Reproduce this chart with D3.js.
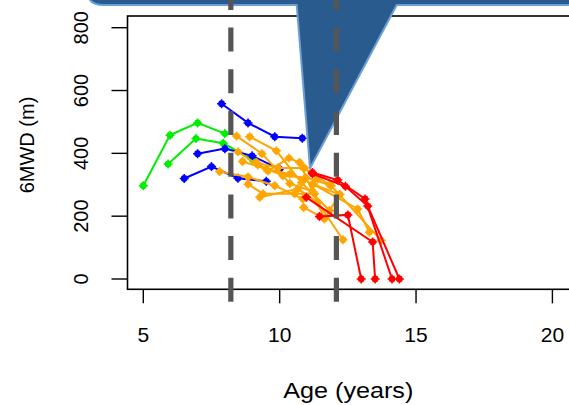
<!DOCTYPE html>
<html>
<head>
<meta charset="utf-8">
<script src="https://cdn.jsdelivr.net/npm/d3@7"></script>
<style>
  body { margin: 0; background: #fff; }
  svg { display: block; font-family: "Liberation Sans", Arial, sans-serif; }
</style>
</head>
<body>
<svg id="chart" width="569" height="405"></svg>
<script>
var width = 569;
var height = 405;

// age (years) and 6MWD (m) per child, grouped by colour
var greenAge  = [[5.0, 5.98, 6.99, 7.99], [5.91, 6.93, 7.93, 8.99]];
var greenDist = [[297, 458, 497, 463], [366, 447, 432, 381]];

var blueAge  = [[7.87, 8.84, 9.82, 10.83], [6.99, 7.99, 8.99, 10.0], [6.5, 7.5, 8.47, 9.51]];
var blueDist = [[558, 497, 453, 448], [399, 415, 392, 350], [320, 358, 321, 311]];

var orangeAge = [
  [8.42, 9.35, 10.37, 11.22],
  [8.9, 9.88, 10.8, 11.83],
  [8.47, 9.2, 10.12, 10.95, 11.83],
  [8.64, 9.51, 10.37, 11.22, 12.2],
  [7.8, 8.84, 9.82, 10.85],
  [8.84, 9.39, 10.55, 11.28],
  [9.15, 9.94, 10.91, 11.4],
  [9.57, 10.34, 10.73, 11.64],
  [9.27, 10.67, 11.4, 12.32],
  [10.85, 11.89, 13.72],
  [11.22, 12.86, 13.29],
  [10.88, 11.64, 12.2]
];
var orangeDist = [
  [455, 399, 304, 278],
  [453, 408, 307, 218],
  [405, 363, 329, 323, 300],
  [374, 350, 334, 302, 269],
  [342, 325, 297, 255],
  [302, 271, 271, 271],
  [371, 353, 353, 318],
  [344, 385, 371, 192],
  [260, 287, 244, 125],
  [355, 297, 123],
  [302, 223, 149],
  [228, 192, 269]
];

var redAge  = [[11.2, 12.13, 13.13, 14.12], [11.2, 12.41, 13.23, 14.39], [10.98, 13.41, 13.5], [11.46, 12.5, 12.99]];
var redDist = [[339, 315, 255, 0], [335, 295, 232, 0], [260, 118, 0], [199, 204, 0]];

var xTicks = [5, 10, 15, 20];
var yTicks = [0, 200, 400, 600, 800];
var cutoffAges = [8.21, 12.08];

var groups = [
  { color: "#00ee00", age: greenAge, dist: greenDist },
  { color: "#0000ff", age: blueAge, dist: blueDist },
  { color: "#ffa500", age: orangeAge, dist: orangeDist },
  { color: "#ff0000", age: redAge, dist: redDist }
];

var svg = d3.select("#chart");

var x = d3.scaleLinear().domain([5, 20]).range([143.3, 552.4]);
var y = d3.scaleLinear().domain([0, 800]).range([279, 27.7]);

var box = { left: 127.5, top: 16, bottom: 289.3, right: 620 };

// plot box
svg.append("rect")
  .attr("x", box.left).attr("y", box.top)
  .attr("width", box.right - box.left).attr("height", box.bottom - box.top)
  .attr("fill", "none").attr("stroke", "#000").attr("stroke-width", 1.6);

// y axis
svg.selectAll(".ytick").data(yTicks).enter().append("line")
  .attr("x1", box.left - 16).attr("x2", box.left)
  .attr("y1", d => y(d)).attr("y2", d => y(d))
  .attr("stroke", "#000").attr("stroke-width", 1.4);

svg.selectAll(".ylab").data(yTicks).enter().append("text")
  .attr("transform", d => `translate(88,${y(d)}) rotate(-90)`)
  .attr("text-anchor", "middle")
  .style("font-size", "20px")
  .text(d => d);

// x axis
svg.selectAll(".xtick").data(xTicks).enter().append("line")
  .attr("x1", d => x(d)).attr("x2", d => x(d))
  .attr("y1", box.bottom).attr("y2", box.bottom + 14)
  .attr("stroke", "#000").attr("stroke-width", 1.4);

svg.selectAll(".xlab").data(xTicks).enter().append("text")
  .attr("x", d => x(d)).attr("y", 341.7)
  .attr("text-anchor", "middle")
  .style("font-size", "21px")
  .text(d => d);

svg.append("text")
  .attr("x", 348.3).attr("y", 398)
  .attr("text-anchor", "middle")
  .attr("textLength", 130).attr("lengthAdjust", "spacingAndGlyphs")
  .style("font-size", "22px")
  .text("Age (years)");

svg.append("text")
  .attr("transform", "translate(33.5,145) rotate(-90)")
  .attr("text-anchor", "middle")
  .style("font-size", "20px")
  .text("6MWD (m)");

// trajectories
var line = d3.line().x(d => x(d[0])).y(d => y(d[1]));
var dataG = svg.append("g");

groups.forEach(g => {
  g.age.forEach((ages, i) => {
    var pts = ages.map((a, j) => [a, g.dist[i][j]]);
    dataG.append("path")
      .datum(pts)
      .attr("d", line)
      .attr("fill", "none")
      .attr("stroke", g.color)
      .attr("stroke-width", 2);
    var m = dataG.selectAll(null).data(pts).enter().append("g")
      .attr("transform", d => `translate(${x(d[0])},${y(d[1])})`);
    m.append("circle").attr("r", 3.4).attr("fill", g.color);
    m.append("path").attr("d", "M-4.5,0H4.5M0,-4.5V4.5")
      .attr("stroke", g.color).attr("stroke-width", 1.5);
  });
});

// callout shape over the top
svg.append("path")
  .attr("d", "M88,-25 L88,-7 Q88,5 104,5 L296.7,5 L310,168.3 L396.7,5 L620,5 L620,-25 Z")
  .attr("fill", "#2a5b8e")
  .attr("stroke", "#6b9fd6")
  .attr("stroke-width", 2)
  .attr("stroke-linejoin", "round");

// cutoff lines
svg.selectAll(".cut").data(cutoffAges).enter().append("line")
  .attr("x1", d => x(d)).attr("x2", d => x(d))
  .attr("y1", 301.8).attr("y2", -30)
  .attr("stroke", "#555555")
  .attr("stroke-width", 5.2)
  .attr("stroke-dasharray", "24,17.7");
</script>
</body>
</html>
